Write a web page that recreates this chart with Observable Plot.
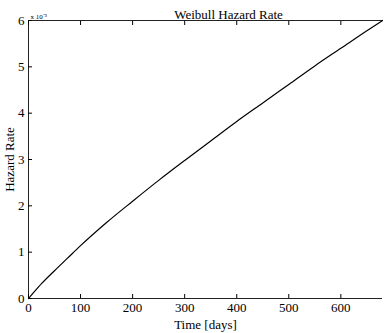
<!DOCTYPE html>
<html>
<head>
<meta charset="utf-8">
<script src="https://cdn.jsdelivr.net/npm/d3@7"></script>
<script src="https://cdn.jsdelivr.net/npm/@observablehq/plot@0.6"></script>
<style>
  html, body { margin: 0; padding: 0; background: #fff; }
  svg { display: block; }
</style>
</head>
<body>
<div id="chart"></div>
<script>
const timeDays = [0, 10, 25, 50, 75, 100, 150, 200, 250, 300, 350, 400, 450, 500, 550, 600, 650, 680];
const hazardRate = [0, 0.00013, 0.00032, 0.00060, 0.00087, 0.00114, 0.00164, 0.00210, 0.00255, 0.00298, 0.00340, 0.00382, 0.00422, 0.00462, 0.00502, 0.00540, 0.00578, 0.00600];
const xTicks = [0, 100, 200, 300, 400, 500, 600];
const yTicks = [0, 0.001, 0.002, 0.003, 0.004, 0.005, 0.006];
const titleText = "Weibull Hazard Rate";
const xLabel = "Time [days]";
const yLabel = "Hazard Rate";
const exponentText = "x 10⁻³";

const data = timeDays.map((t, i) => ({t, h: hazardRate[i]}));

const chart = Plot.plot({
  width: 385,
  height: 333,
  marginLeft: 28,
  marginRight: 3,
  marginTop: 20,
  marginBottom: 35,
  style: {fontFamily: "Liberation Serif, serif", fontSize: "13px", color: "#000", background: "#fff"},
  x: {domain: [0, 680], ticks: xTicks},
  y: {domain: [0, 0.006], ticks: yTicks},
  marks: [
    Plot.ruleY([0.006], {stroke: "#222", strokeWidth: 1}),
    Plot.ruleY([0], {stroke: "#222", strokeWidth: 1}),
    Plot.ruleX([0], {stroke: "#222", strokeWidth: 1}),
    Plot.axisX({ticks: xTicks, tickSize: -4, tickPadding: 8, tickFormat: d => String(d), label: xLabel, labelAnchor: "center", labelArrow: "none", labelOffset: 30, fontSize: 13}),
    Plot.axisX({anchor: "top", ticks: xTicks, tickSize: -4, tickFormat: () => "", label: null}),
    Plot.axisY({ticks: yTicks, tickSize: -4, tickPadding: 8, tickFormat: d => String(Math.round(d * 1000)), label: yLabel, labelAnchor: "center", labelArrow: "none", labelOffset: 24, fontSize: 13}),
    Plot.line(data, {x: "t", y: "h", stroke: "#000", strokeWidth: 1.2, curve: "monotone-x"}),
    Plot.text([titleText], {text: d => d, frameAnchor: "top", dy: -11, dx: 23, fontSize: 13, fill: "#000"}),
    Plot.text([exponentText], {text: d => d, frameAnchor: "top-left", dy: -6, dx: 2, fontSize: 7, textAnchor: "start", fill: "#000"})
  ]
});
document.getElementById("chart").appendChild(chart);
</script>
</body>
</html>
